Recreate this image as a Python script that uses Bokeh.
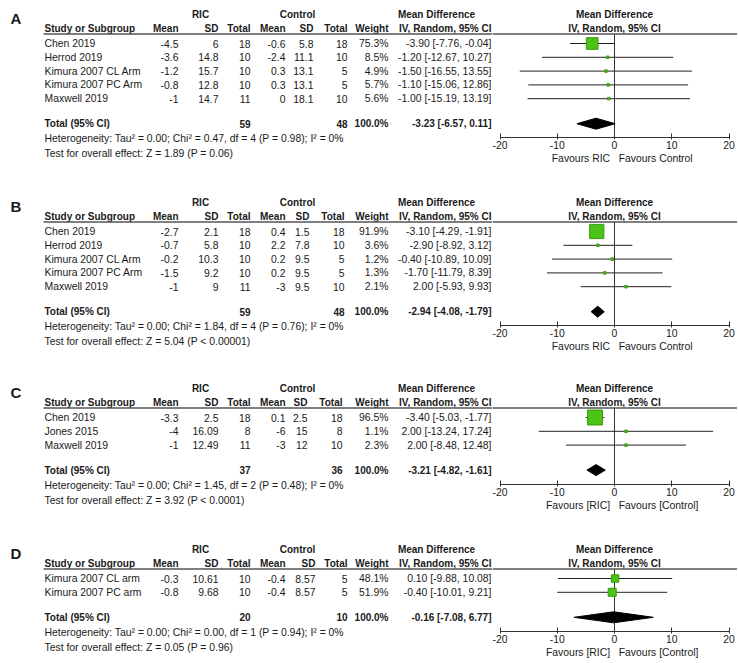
from bokeh.plotting import figure
from bokeh.models import Range1d, FixedTicker
from bokeh.layouts import column, row
from bokeh.embed import file_html
from bokeh.resources import INLINE
from bokeh.core.properties import value

# ---------------- data ----------------
A_study = ["Chen 2019", "Herrod 2019", "Kimura 2007 CL Arm", "Kimura 2007 PC Arm", "Maxwell 2019"]
A_ric_mean = [-4.5, -3.6, -1.2, -0.8, -1]
A_ric_sd = [6, 14.8, 15.7, 12.8, 14.7]
A_ric_n = [18, 10, 10, 10, 11]
A_ctl_mean = [-0.6, -2.4, 0.3, 0.3, 0]
A_ctl_sd = [5.8, 11.1, 13.1, 13.1, 18.1]
A_ctl_n = [18, 10, 5, 5, 10]
A_weight = [75.3, 8.5, 4.9, 5.7, 5.6]
A_md = [-3.90, -1.20, -1.50, -1.10, -1.00]
A_lo = [-7.76, -12.67, -16.55, -15.06, -15.19]
A_hi = [-0.04, 10.27, 13.55, 12.86, 13.19]
A_total = dict(ric_n=59, ctl_n=48, weight=100.0, md=-3.23, lo=-6.57, hi=0.11)
A_het = dict(tau2="0.00", chi2="0.47", df=4, p="= 0.98", i2="0%", z="1.89", zp="= 0.06")

B_study = ["Chen 2019", "Herrod 2019", "Kimura 2007 CL Arm", "Kimura 2007 PC Arm", "Maxwell 2019"]
B_ric_mean = [-2.7, -0.7, -0.2, -1.5, -1]
B_ric_sd = [2.1, 5.8, 10.3, 9.2, 9]
B_ric_n = [18, 10, 10, 10, 11]
B_ctl_mean = [0.4, 2.2, 0.2, 0.2, -3]
B_ctl_sd = [1.5, 7.8, 9.5, 9.5, 9.5]
B_ctl_n = [18, 10, 5, 5, 10]
B_weight = [91.9, 3.6, 1.2, 1.3, 2.1]
B_md = [-3.10, -2.90, -0.40, -1.70, 2.00]
B_lo = [-4.29, -8.92, -10.89, -11.79, -5.93]
B_hi = [-1.91, 3.12, 10.09, 8.39, 9.93]
B_total = dict(ric_n=59, ctl_n=48, weight=100.0, md=-2.94, lo=-4.08, hi=-1.79)
B_het = dict(tau2="0.00", chi2="1.84", df=4, p="= 0.76", i2="0%", z="5.04", zp="< 0.00001")

C_study = ["Chen 2019", "Jones 2015", "Maxwell 2019"]
C_ric_mean = [-3.3, -4, -1]
C_ric_sd = [2.5, 16.09, 12.49]
C_ric_n = [18, 8, 11]
C_ctl_mean = [0.1, -6, -3]
C_ctl_sd = [2.5, 15, 12]
C_ctl_n = [18, 8, 10]
C_weight = [96.5, 1.1, 2.3]
C_md = [-3.40, 2.00, 2.00]
C_lo = [-5.03, -13.24, -8.48]
C_hi = [-1.77, 17.24, 12.48]
C_total = dict(ric_n=37, ctl_n=36, weight=100.0, md=-3.21, lo=-4.82, hi=-1.61)
C_het = dict(tau2="0.00", chi2="1.45", df=2, p="= 0.48", i2="0%", z="3.92", zp="< 0.0001")

D_study = ["Kimura 2007 CL arm", "Kimura 2007 PC arm"]
D_ric_mean = [-0.3, -0.8]
D_ric_sd = [10.61, 9.68]
D_ric_n = [10, 10]
D_ctl_mean = [-0.4, -0.4]
D_ctl_sd = [8.57, 8.57]
D_ctl_n = [5, 5]
D_weight = [48.1, 51.9]
D_md = [0.10, -0.40]
D_lo = [-9.88, -10.01]
D_hi = [10.08, 9.21]
D_total = dict(ric_n=20, ctl_n=10, weight=100.0, md=-0.16, lo=-7.08, hi=6.77)
D_het = dict(tau2="0.00", chi2="0.00", df=1, p="= 0.94", i2="0%", z="0.05", zp="= 0.96")

AXIS_TICKS = [-20, -10, 0, 10, 20]
FAV_PLAIN = ("Favours RIC", "Favours Control")
FAV_BRACKET = ("Favours [RIC]", "Favours [Control]")

# ---------------- layout / style ----------------
FONT = "Liberation Sans"
INK = "#1a1a1a"
REG = "10.4px"
BOLD = "10px"
TBL_W = 492          # width of the table part (page px)
FOR_W = 245          # width of the forest part
ZERO_X, PX_PER_UNIT = 614, 5.725
MD_START = (TBL_W - ZERO_X) / PX_PER_UNIT
MD_END = (TBL_W + FOR_W - ZERO_X) / PX_PER_UNIT

X_STUDY = 44
X_MEAN, X_SD, X_TOT = 178, 218, 250
X_CMEAN, X_W, X_CI = 285, 388, 491
X_RIC_C, X_CTL_C, X_MDH_C = 200, 297, 436
NBSP = "\u00a0"


def fmt(v):
    return "{:g}".format(v)


def ci(md, lo, hi):
    return "{:.2f} [{:.2f}, {:.2f}]".format(md, lo, hi)


def texts(p, xs, ys, labels, align, bold=False, size=None):
    p.text(x=xs, y=ys, text=labels,
           text_align=align, text_baseline="middle",
           text_font=value(FONT), text_font_size=size or (BOLD if bold else REG),
           text_font_style="bold" if bold else "normal", text_color=INK)


def bare(p):
    p.outline_line_color = None
    p.xgrid.visible = False
    p.ygrid.visible = False
    p.background_fill_color = "white"
    p.border_fill_color = "white"


def panel(letter, study, rm, rs, rn, cm, cs, cn, w, md, lo, hi, tot, het,
          fig_top, fig_bottom, y0, x_csd, x_ctot, fav):
    n = len(study)
    header_y = y0 + 14
    line_y = y0 + 19.5
    rows = [y0 + 29 + 13.8 * i for i in range(n)]
    total_y = rows[-1] + 25
    axis_y = int(round(total_y + 14))
    het_y = total_y + 15
    test_y = total_y + 30
    fig_h = fig_bottom - fig_top

    # ---- table part ----
    t = figure(frame_width=TBL_W, frame_height=fig_h,
               x_range=Range1d(0, TBL_W), y_range=Range1d(fig_bottom, fig_top),
               output_backend="svg", toolbar_location=None,
               x_axis_location=None, y_axis_location=None,
               min_border_left=0, min_border_right=0, min_border_top=0, min_border_bottom=0)
    bare(t)
    texts(t, [10], [y0 + 4], [letter], "left", bold=True, size="15px")
    texts(t, [X_RIC_C, X_CTL_C, X_MDH_C], [y0] * 3, ["RIC", "Control", "Mean Difference"], "center", bold=True)
    texts(t, [X_STUDY], [header_y], ["Study or Subgroup"], "left", bold=True)
    texts(t, [X_MEAN, X_SD, X_TOT, X_CMEAN, x_csd, x_ctot, X_W, X_CI], [header_y] * 8,
          ["Mean", "SD", "Total", "Mean", "SD", "Total", "Weight", "IV, Random, 95% CI"], "right", bold=True)
    t.segment(x0=[X_STUDY - 1], x1=[TBL_W], y0=[line_y], y1=[line_y],
              line_color="#555555", line_width=1.5)
    texts(t, [X_STUDY] * n, rows, study, "left")
    texts(t, [X_MEAN] * n, rows, [fmt(v) for v in rm], "right")
    texts(t, [X_SD] * n, rows, [fmt(v) for v in rs], "right")
    texts(t, [X_TOT] * n, rows, [fmt(v) for v in rn], "right")
    texts(t, [X_CMEAN] * n, rows, [fmt(v) for v in cm], "right")
    texts(t, [x_csd] * n, rows, [fmt(v) for v in cs], "right")
    texts(t, [x_ctot] * n, rows, [fmt(v) for v in cn], "right")
    texts(t, [X_W] * n, rows, ["{:.1f}%".format(v) for v in w], "right")
    texts(t, [X_CI] * n, rows, [ci(a, b, c) for a, b, c in zip(md, lo, hi)], "right")
    texts(t, [X_STUDY], [total_y], ["Total (95% CI)"], "left", bold=True)
    texts(t, [X_TOT, x_ctot, X_W, X_CI], [total_y] * 4,
          [fmt(tot["ric_n"]), fmt(tot["ctl_n"]), "{:.1f}%".format(tot["weight"]),
           ci(tot["md"], tot["lo"], tot["hi"])], "right", bold=True)
    texts(t, [X_STUDY, X_STUDY], [het_y, test_y],
          ["Heterogeneity: Tau\u00b2 = {}; Chi\u00b2 = {}, df = {} (P {}); I\u00b2 = {}".format(
              het["tau2"], het["chi2"], het["df"], het["p"], het["i2"]),
           "Test for overall effect: Z = {} (P {})".format(het["z"], het["zp"])], "left")

    # ---- forest part ----
    f = figure(frame_width=FOR_W, frame_height=axis_y - fig_top,
               x_range=Range1d(MD_START, MD_END), y_range=Range1d(axis_y, fig_top),
               output_backend="svg", toolbar_location=None, y_axis_location=None,
               min_border_left=0, min_border_right=0, min_border_top=0,
               min_border_bottom=int(fig_bottom - axis_y))
    bare(f)
    ax = f.xaxis[0]
    ax.ticker = FixedTicker(ticks=AXIS_TICKS)
    ax.major_label_overrides = {tk: str(tk) for tk in AXIS_TICKS}
    ax.bounds = (AXIS_TICKS[0], AXIS_TICKS[-1])
    ax.minor_tick_line_color = None
    ax.major_tick_in = 4
    ax.major_tick_out = 2
    ax.major_label_standoff = 1
    ax.axis_line_color = "#333333"
    ax.major_tick_line_color = "#333333"
    ax.major_label_text_font = FONT
    ax.major_label_text_font_size = REG
    ax.major_label_text_color = INK
    ax.axis_label = NBSP * 5 + fav[0] + NBSP * 3 + fav[1]
    ax.axis_label_standoff = 1
    ax.axis_label_text_font = FONT
    ax.axis_label_text_font_size = REG
    ax.axis_label_text_font_style = "normal"
    ax.axis_label_text_color = INK

    texts(f, [0, 0], [y0, header_y], ["Mean Difference", "IV, Random, 95% CI"], "center", bold=True)
    f.segment(x0=[MD_START], x1=[MD_END], y0=[line_y], y1=[line_y],
              line_color="#555555", line_width=1.5)
    f.segment(x0=[0], x1=[0], y0=[line_y], y1=[axis_y], line_color="#333333", line_width=1)
    f.segment(x0=lo, x1=hi, y0=rows, y1=rows, line_color="#222222", line_width=1)
    sizes = [max(2.5, 0.155 * v) for v in w]
    f.scatter(x=md, y=rows, marker="square", size=sizes, fill_color="#4cc417",
              line_color="#3a9a10", line_width=1)
    f.patch(x=[tot["lo"], tot["md"], tot["hi"], tot["md"]],
            y=[total_y, total_y - 5.5, total_y, total_y + 5.5],
            fill_color="black", line_color="black")
    return row(t, f, spacing=0)


pA = panel("A", A_study, A_ric_mean, A_ric_sd, A_ric_n, A_ctl_mean, A_ctl_sd, A_ctl_n,
           A_weight, A_md, A_lo, A_hi, A_total, A_het, 0, 180, 14, 313, 347, FAV_PLAIN)
pB = panel("B", B_study, B_ric_mean, B_ric_sd, B_ric_n, B_ctl_mean, B_ctl_sd, B_ctl_n,
           B_weight, B_md, B_lo, B_hi, B_total, B_het, 180, 368, 202, 309, 344, FAV_PLAIN)
pC = panel("C", C_study, C_ric_mean, C_ric_sd, C_ric_n, C_ctl_mean, C_ctl_sd, C_ctl_n,
           C_weight, C_md, C_lo, C_hi, C_total, C_het, 368, 527, 388, 307, 342, FAV_BRACKET)
pD = panel("D", D_study, D_ric_mean, D_ric_sd, D_ric_n, D_ctl_mean, D_ctl_sd, D_ctl_n,
           D_weight, D_md, D_lo, D_hi, D_total, D_het, 527, 662, 549, 315, 347, FAV_BRACKET)

layout = column(pA, pB, pC, pD, spacing=0)
open("out.html", "w").write(file_html(layout, INLINE))
